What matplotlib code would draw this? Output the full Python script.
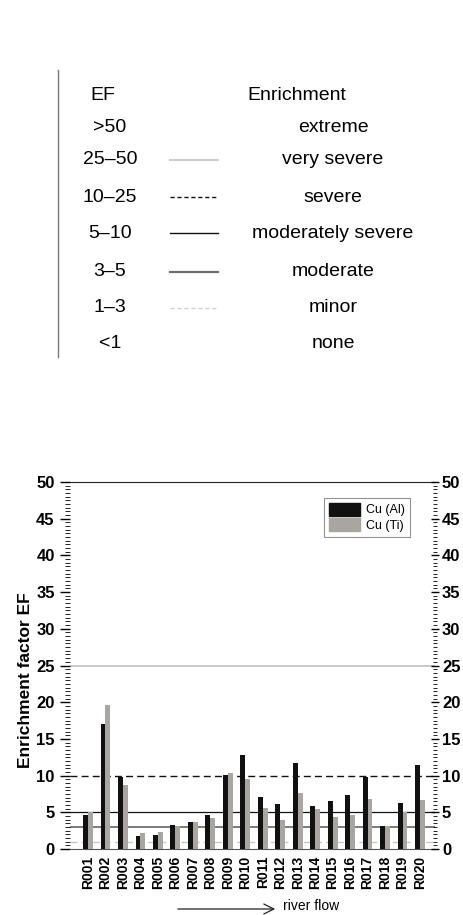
import numpy as np
import matplotlib.pyplot as plt
from matplotlib.patches import Patch

plt.rcParams['font.family'] = ['Liberation Sans', 'DejaVu Sans']

# classification table
ef_ranges = ['>50', '25\u201350', '10\u201325', '5\u201310', '3\u20135', '1\u20133', '<1']
enrichment = ['extreme', 'very severe', 'severe', 'moderately severe', 'moderate', 'minor', 'none']
line_colors = [None, '#c8c6c2', '#111111', '#111111', '#707070', '#d0d0d0', None]
line_styles = [None, '-', (0, (3, 2)), '-', '-', (0, (3, 2)), None]
line_widths = [0, 1.3, 1.0, 1.0, 1.6, 1.0, 0]

# bar data
stations = ['R%03d' % i for i in range(1, 21)]
cu_al = [4.6, 17.0, 9.8, 1.8, 1.95, 3.25, 3.65, 4.65, 10.05, 12.85,
         7.15, 6.1, 11.75, 5.9, 6.6, 7.4, 9.8, 3.1, 6.3, 11.5]
cu_ti = [5.0, 19.6, 8.7, 2.15, 2.25, 3.15, 3.65, 4.25, 10.3, 9.55,
         5.6, 3.9, 7.6, 5.5, 4.3, 4.6, 6.8, 3.1, 5.1, 6.65]
thresholds = [25, 10, 5, 3, 1]

W, H = 463, 915
fig = plt.figure(figsize=(W / 100, H / 100), dpi=100)

# table drawn in pixel coordinates
tab = fig.add_axes([0, 0, 1, 1])
tab.set_xlim(0, W)
tab.set_ylim(H, 0)
tab.axis('off')
tab.plot([58, 58], [70, 357], color='#777777', lw=1.0)
tab.text(103, 95, 'EF', ha='center', va='center', fontsize=14)
tab.text(297, 95, 'Enrichment', ha='center', va='center', fontsize=14)
row_y = [127, 160, 197, 233, 272, 308, 343]
for i, y in enumerate(row_y):
    tab.text(110, y, ef_ranges[i], ha='center', va='center', fontsize=14)
    tab.text(333, y, enrichment[i], ha='center', va='center', fontsize=14)
    if line_colors[i] is not None:
        tab.plot([170, 218], [y, y], color=line_colors[i], ls=line_styles[i],
                 lw=line_widths[i])

# river flow arrow
tab.annotate('', xy=(278, 909), xytext=(175, 909),
             arrowprops=dict(arrowstyle='->', color='#222222', lw=0.9,
                             mutation_scale=18))
tab.text(283, 906, 'river flow', ha='left', va='center', fontsize=10)

# bar chart
ax = fig.add_axes([70 / W, 1 - 849 / H, 365 / W, 367 / H])
x = np.arange(len(stations))
bw = 0.28
ax.bar(x - bw / 2, cu_al, bw, color='#111111', zorder=3, label='Cu (Al)')
ax.bar(x + bw / 2, cu_ti, bw, color='#a9a6a2', zorder=3, label='Cu (Ti)')

ax.axhline(thresholds[0], color='#c8c4c0', lw=1.3, zorder=1)
ax.axhline(thresholds[1], color='#111111', lw=1.0, ls=(0, (5, 3)), zorder=1)
ax.axhline(thresholds[2], color='#111111', lw=0.9, zorder=1)
ax.axhline(thresholds[3], color='#707070', lw=1.3, zorder=1)
ax.axhline(thresholds[4], color='#c8c8c8', lw=1.0, ls=(0, (5, 3)), zorder=1)

ax.set_xlim(-1.03, 19.86)
ax.set_ylim(0, 50)
ax.set_xticks(x)
ax.set_xticklabels(stations, rotation=90, fontsize=10, fontweight='bold')
ax.tick_params(axis='x', length=0, pad=5)
ax.set_yticks(np.arange(0, 51, 5))
ax.set_yticks(np.arange(0, 50.1, 0.5), minor=True)
ax.tick_params(axis='y', which='major', direction='out', length=7, width=1,
               labelsize=12, pad=4, left=True, right=False,
               labelleft=True, labelright=False)
ax.tick_params(axis='y', which='minor', direction='out', length=3.5, width=0.6,
               left=True, right=False)
for lab in ax.get_yticklabels():
    lab.set_fontweight('bold')
ax.spines['left'].set_visible(False)
ax.spines['right'].set_visible(False)
ax.spines['top'].set_color('#222222')
ax.spines['bottom'].set_color('#555555')
ax.set_ylabel('Enrichment factor EF', fontsize=12.5, fontweight='bold')
ax.yaxis.set_label_coords(-0.10, 0.46)

# right-hand axis repeats the scale
axr = ax.twinx()
axr.set_ylim(ax.get_ylim())
axr.set_yticks(np.arange(0, 51, 5))
axr.set_yticks(np.arange(0, 50.1, 0.5), minor=True)
axr.tick_params(axis='y', which='major', direction='inout', length=6, width=1,
                labelsize=12, pad=2)
axr.tick_params(axis='y', which='minor', direction='inout', length=3.5, width=0.6)
for lab in axr.get_yticklabels():
    lab.set_fontweight('bold')
for s in axr.spines.values():
    s.set_visible(False)

leg = ax.legend(handles=[Patch(color='#111111', label='Cu (Al)'),
                         Patch(color='#a9a6a2', label='Cu (Ti)')],
                loc='upper right', bbox_to_anchor=(0.932, 0.957), borderaxespad=0,
                fontsize=9, fancybox=False, handlelength=2.5, handleheight=1.2,
                handletextpad=0.5, labelspacing=0.15, borderpad=0.4)
leg.get_frame().set_edgecolor('#777777')
leg.get_frame().set_linewidth(0.8)

fig.savefig('out.png', dpi=100)
